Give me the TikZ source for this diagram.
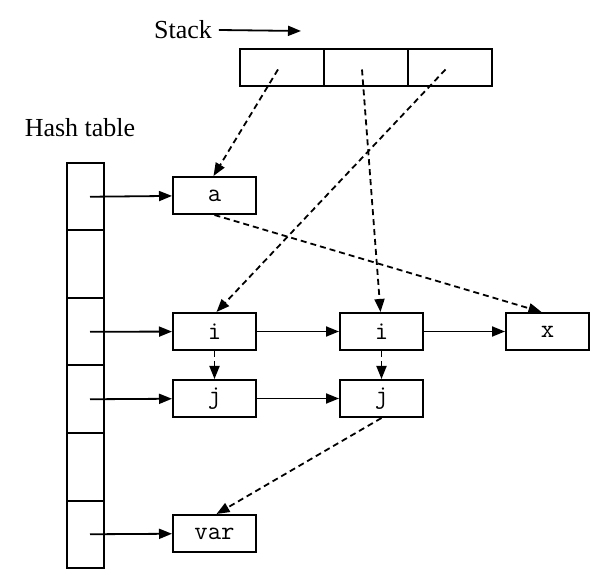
\documentclass[tikz,border=0pt]{standalone}
\usepackage{fontspec}
\setmainfont{Liberation Serif}
\usepackage{tikz}
\usetikzlibrary{arrows.meta}

\tikzset{
  entry/.style={draw, line width=1pt, minimum width=41.5pt, minimum height=18.5pt,
    inner sep=0pt, font=\fontsize{13}{13}\selectfont\ttfamily},
  cell/.style={draw, line width=1pt, minimum width=42pt, minimum height=18.5pt, inner sep=0pt},
  slot/.style={draw, line width=1pt, minimum width=18.5pt, minimum height=33.75pt, inner sep=0pt},
  ptr/.style={line width=0.9pt, -{Triangle[length=6.5pt,width=5pt]}},
  link/.style={ptr, dash pattern=on 3pt off 2pt},
}

\begin{document}
\begin{tikzpicture}[x=0.5pt, y=-0.5pt, font=\fontsize{13}{13}\selectfont]
      \useasboundingbox (0, 0) rectangle (616, 588);
      % labels
      \node (stacklabel) at (183, 30) {Stack};
      \coordinate (stacktip) at (301, 31);
      \draw[ptr] (stacklabel.east) -- (stacktip);
      \node (hashlabel) at (80, 128) {Hash table};
      % stack
      \node[cell] (s1) at (282, 67.5) {};
      \node[cell] (s2) at (366, 67.5) {};
      \node[cell] (s3) at (449.5, 67.5) {};
      % hash table
      \foreach \k in {1,...,6}
        \node[slot] (h\k) at (85.5, 129.25 + 67.5*\k) {};
      % entries
      \node[entry] (a) at (214.5, 195.5) {a};
      \node[entry] (i1) at (214.5, 331.5) {i};
      \node[entry] (i2) at (381.5, 331.5) {i};
      \node[entry] (x) at (547.5, 331.5) {x};
      \node[entry] (j1) at (214.5, 398.5) {j};
      \node[entry] (j2) at (381.5, 398.5) {j};
      \node[entry] (var) at (214.5, 533.5) {var};
      % buckets
      \draw[ptr] ([xshift=2.25pt]h1.center) -- (a);
      \draw[ptr] ([xshift=2.25pt]h3.center) -- (i1);
      \draw[ptr] ([xshift=2.25pt]h4.center) -- (j1);
      \draw[ptr] ([xshift=2.25pt]h6.center) -- (var);
      \draw[ptr] (i1) -- (i2);
      \draw[ptr] (i2) -- (x);
      \draw[ptr] (j1) -- (j2);
      % scope links
      \draw[link] ([xshift=-2pt, yshift=-1pt]s1.center) -- ([xshift=-0.5pt]a.north);
      \draw[link] ([xshift=-2pt, yshift=-1pt]s2.center) -- ([xshift=-0.5pt]i2.north);
      \draw[link] ([xshift=-2pt, yshift=-1pt]s3.center) -- ([xshift=1pt]i1.north);
      \draw[link] (a.south) -- ([xshift=-3pt]x.north);
      \draw[link] (i1) -- (j1);
      \draw[link] (i2) -- (j2);
      \draw[link] (j2.south) -- ([xshift=1pt]var.north);
    \end{tikzpicture}
\end{document}
